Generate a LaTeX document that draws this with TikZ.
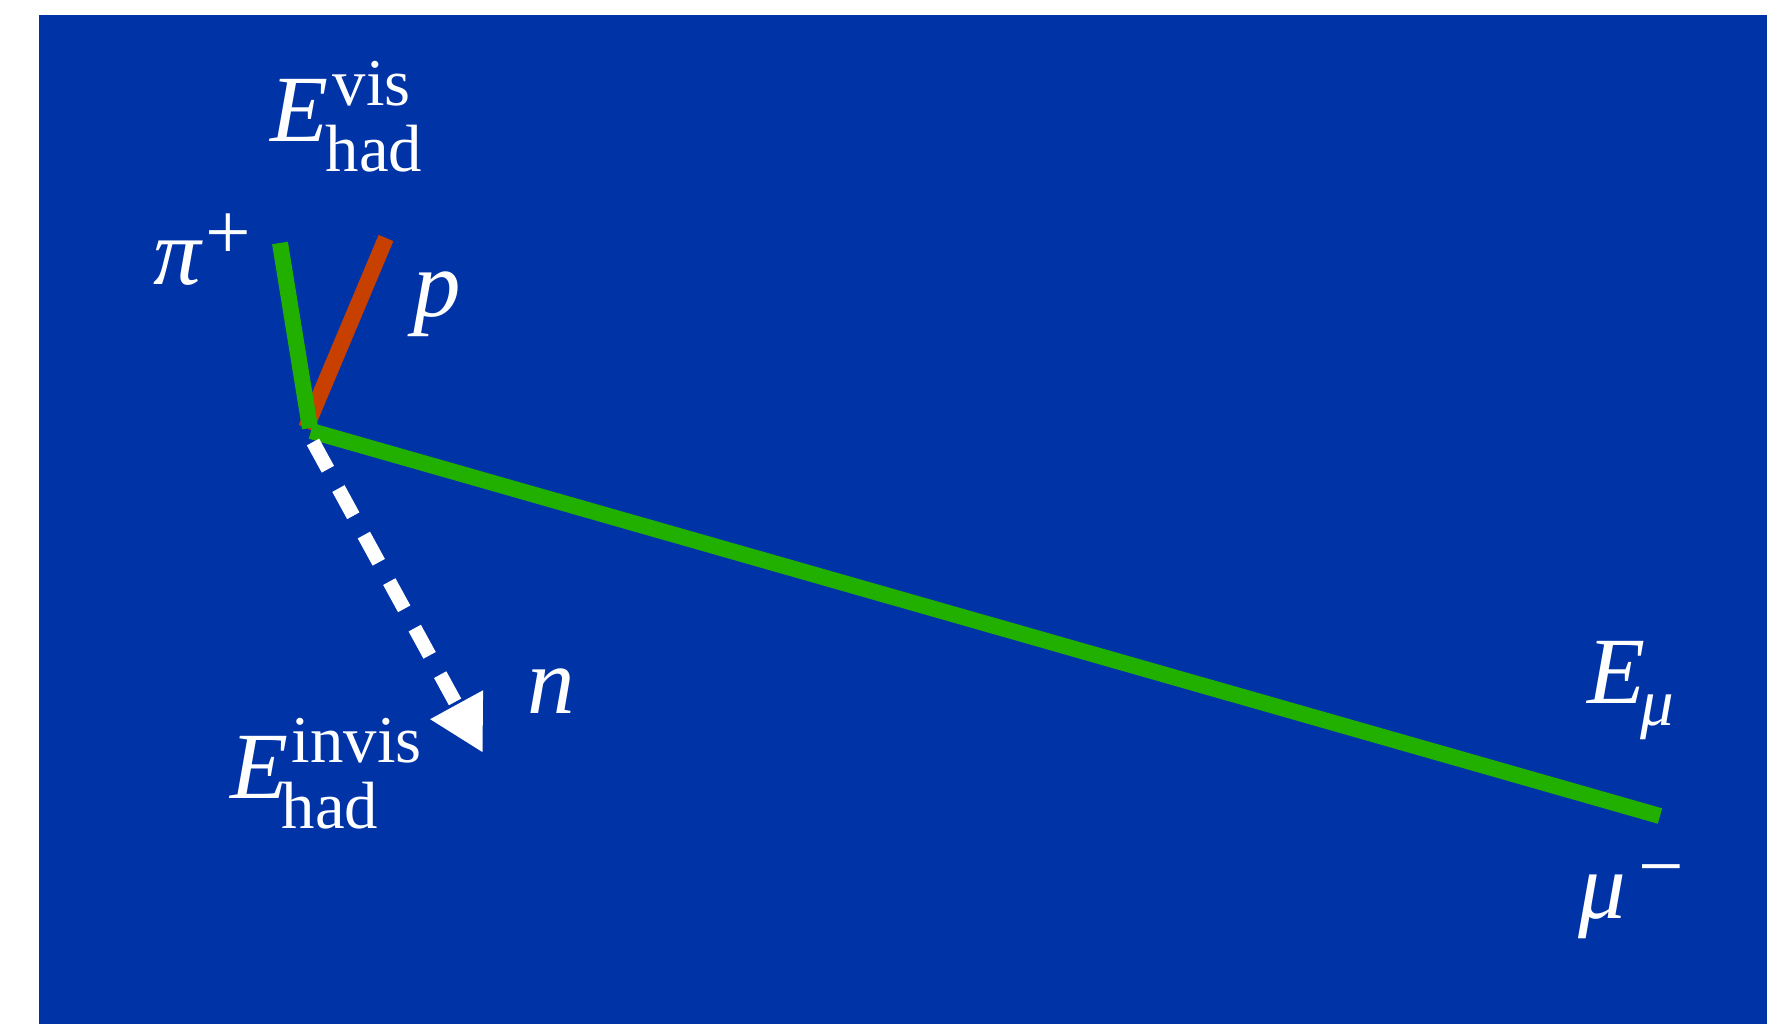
\documentclass[tikz,border=0pt]{standalone}
\usepackage{fontspec}
\setmainfont{Liberation Serif}
\usetikzlibrary{arrows.meta}
\definecolor{bgblue}{RGB}{0,51,166}
\definecolor{trkgreen}{RGB}{34,176,0}
\definecolor{trkred}{RGB}{200,64,0}
\newcommand\bigf{\fontsize{27pt}{30pt}\selectfont}
\newcommand\smallf{\fontsize{19pt}{22pt}\selectfont}
\newcommand\signf{\fontsize{23pt}{26pt}\selectfont}
\newcommand\scrpt[3]{\rlap{\hspace*{#1}\raisebox{#2}{\smallf\upshape #3}}}
\newcommand\sgn[3]{\rlap{\hspace*{#1}\raisebox{#2}{\signf\upshape #3}}}
\tikzset{
  lbl/.style={anchor=base west, inner sep=0pt, text=white, font=\bigf},
  track/.style={line width=1.6mm, line cap=butt},
  neutral/.style={white, line width=1.4mm, dash pattern=on 3.1mm off 2.2mm,
    -{Triangle[length=5.5mm, width=5.6mm]}}
}
\begin{document}
\begin{tikzpicture}[x=0.01cm, y=-0.01cm]
\useasboundingbox (0,0) rectangle (1784,1024);
\fill[bgblue] (39,15) rectangle (1767,1024);
% vertices and track ends
\coordinate (v) at (310,428);
\coordinate (pi) at (280,243);
\coordinate (pr) at (386,238);
\coordinate (vr) at (306,428);
\coordinate (vm) at (311,431);
\coordinate (mu) at (1660,816);
\coordinate (ns) at (313,442);
\coordinate (nt) at (483,753);
% tracks
\draw[track, trkred] (vr) -- (pr);
\draw[track, trkgreen] (v) -- (pi);
\draw[track, trkgreen] (vm) -- (mu);
\draw[neutral] (ns) -- (nt);
% labels
\node[lbl] (evis) at (270,141) {\scrpt{6.2mm}{3.5mm}{vis}\scrpt{5.5mm}{-3.0mm}{had}\itshape E};
\node[lbl] (pil) at (153,284) {\sgn{5.2mm}{2.4mm}{+}\itshape π};
\node[lbl] (pl) at (413,316) {\itshape p};
\node[lbl] (nl) at (527,713) {\itshape n};
\node[lbl] (einv) at (230,798) {\scrpt{6.1mm}{3.5mm}{invis}\scrpt{5.1mm}{-3.0mm}{had}\itshape E};
\node[lbl] (emu) at (1587,703) {\scrpt{5.3mm}{-2.2mm}{\itshape μ}\itshape E};
\node[lbl] (mul) at (1578,918) {\sgn{6.0mm}{2.4mm}{−}\itshape μ};
\end{tikzpicture}
\end{document}
